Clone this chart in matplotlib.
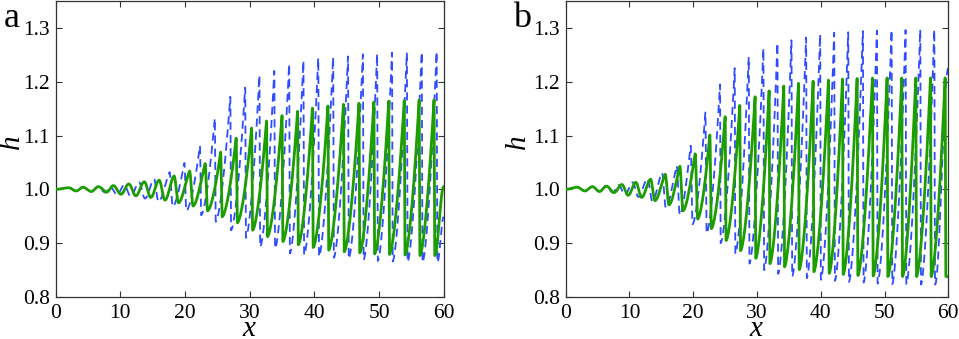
import numpy as np
import matplotlib
matplotlib.use("Agg")
import matplotlib.pyplot as plt

plt.rcParams['font.family'] = 'serif'
plt.rcParams['font.serif'] = ['Liberation Serif', 'DejaVu Serif']

# ---------------- data ----------------
# Panel a, solid green: crest positions / heights, trough positions / heights
a_green_crest_x = [2.0, 4.2, 6.6, 8.9, 11.3, 13.7, 16.0, 18.3, 20.7, 23.1, 25.5, 27.9, 30.3,
                   32.6, 35.0, 37.4, 39.7, 42.1, 44.5, 46.9, 49.2, 51.5, 53.9, 56.2, 58.5]
a_green_crest_h = [1.003, 1.004, 1.005, 1.007, 1.010, 1.014, 1.017, 1.025, 1.034, 1.048, 1.069,
                   1.095, 1.114, 1.127, 1.137, 1.145, 1.151, 1.155, 1.158, 1.160, 1.162, 1.164,
                   1.165, 1.166, 1.166]
a_green_trough_x = [3.2, 5.5, 7.9, 10.1, 12.4, 14.7, 16.9, 19.0, 21.25, 23.5, 25.75, 28.1, 30.45,
                    32.75, 35.13, 37.52, 39.82, 42.22, 44.62, 47.02, 49.32, 51.62, 54.02, 56.32, 58.62]
a_green_trough_h = [0.997, 0.996, 0.995, 0.991, 0.988, 0.985, 0.980, 0.975, 0.969, 0.960, 0.949,
                    0.938, 0.924, 0.912, 0.903, 0.897, 0.892, 0.887, 0.884, 0.882, 0.880, 0.879,
                    0.878, 0.877, 0.877]
a_green_end = 1.005

# Panel a, dashed blue
a_blue_crest_x = [2.0, 4.2, 6.5, 8.4, 10.6, 12.9, 15.2, 17.6, 19.9, 22.3, 24.6, 27.0, 29.3, 31.5,
                  33.8, 36.1, 38.3, 40.6, 42.9, 45.2, 47.5, 49.7, 52.0, 54.3, 56.6, 58.9]
a_blue_crest_h = [1.003, 1.004, 1.005, 1.005, 1.008, 1.013, 1.019, 1.032, 1.049, 1.081, 1.132,
                  1.172, 1.189, 1.212, 1.220, 1.233, 1.239, 1.244, 1.246, 1.247, 1.251, 1.252,
                  1.254, 1.254, 1.255, 1.256]
a_blue_trough_x = [3.2, 5.5, 7.7, 9.5, 11.6, 13.8, 15.9, 18.1, 20.2, 22.5, 24.75, 27.12, 29.42,
                   31.62, 33.92, 36.22, 38.42, 40.72, 43.02, 45.32, 47.62, 49.82, 52.12, 54.42,
                   56.72, 59.02]
a_blue_trough_h = [0.997, 0.996, 0.994, 0.990, 0.987, 0.983, 0.977, 0.968, 0.960, 0.952, 0.940,
                   0.924, 0.910, 0.893, 0.890, 0.881, 0.878, 0.875, 0.873, 0.871, 0.869, 0.867,
                   0.866, 0.865, 0.864, 0.864]
a_blue_end = 0.949

# Panel b, solid green
b_green_crest_x = [1.8, 4.2, 6.4, 8.8, 11.0, 13.3, 15.6, 17.9, 20.3, 22.6, 25.0, 27.3, 29.7,
                   31.9, 34.2, 36.5, 38.8, 41.2, 43.4, 45.7, 48.1, 50.4, 52.7, 54.9, 57.2, 59.5]
b_green_crest_h = [1.004, 1.005, 1.006, 1.009, 1.013, 1.019, 1.028, 1.043, 1.066, 1.101, 1.135,
                   1.156, 1.172, 1.183, 1.192, 1.197, 1.201, 1.203, 1.205, 1.206, 1.207, 1.207,
                   1.207, 1.207, 1.207, 1.207]
b_green_trough_x = [3.0, 5.3, 7.6, 9.8, 11.9, 14.0, 16.2, 18.4, 20.7, 22.85, 25.15, 27.42, 29.8,
                    32.02, 34.32, 36.62, 38.92, 41.32, 43.52, 45.82, 48.22, 50.52, 52.82, 55.02,
                    57.32, 59.62]
b_green_trough_h = [0.997, 0.996, 0.994, 0.989, 0.985, 0.979, 0.971, 0.960, 0.945, 0.927, 0.905,
                    0.886, 0.872, 0.862, 0.856, 0.851, 0.847, 0.844, 0.842, 0.840, 0.839, 0.838,
                    0.838, 0.838, 0.838, 0.838]
b_green_end = 0.838

# Panel b, dashed blue
b_blue_crest_x = [1.8, 4.2, 6.3, 8.3, 10.5, 12.8, 15.1, 17.4, 19.6, 21.9, 24.2, 26.5, 28.7,
                  31.0, 33.2, 35.4, 37.7, 39.9, 42.1, 44.3, 46.6, 48.8, 51.1, 53.3, 55.6, 57.8]
b_blue_crest_h = [1.004, 1.005, 1.006, 1.008, 1.013, 1.020, 1.031, 1.044, 1.081, 1.143, 1.195,
                  1.225, 1.246, 1.262, 1.272, 1.277, 1.282, 1.288, 1.291, 1.292, 1.294, 1.295,
                  1.296, 1.296, 1.297, 1.297]
b_blue_trough_x = [3.0, 5.3, 7.4, 9.3, 11.4, 13.6, 15.7, 17.9, 19.9, 22.1, 24.3, 26.6, 28.82,
                   31.12, 33.32, 35.52, 37.82, 40.02, 42.22, 44.42, 46.72, 48.92, 51.22, 53.42,
                   55.72, 57.92]
b_blue_trough_h = [0.997, 0.996, 0.994, 0.990, 0.986, 0.978, 0.966, 0.952, 0.935, 0.918, 0.900,
                   0.880, 0.862, 0.850, 0.843, 0.838, 0.835, 0.832, 0.830, 0.828, 0.827, 0.825,
                   0.824, 0.824, 0.823, 0.823]
b_blue_end = 1.225

x_ticks = [0, 10, 20, 30, 40, 50, 60]
y_ticks = [0.8, 0.9, 1.0, 1.1, 1.2, 1.3]
panel_labels = ["a", "b"]

GREEN = "#1d9e00"
BLUE = "#2f4dff"


def wave(cx, ch, tx, th, end_h, x_end=60.0, start_h=1.0):
    """Connect read extrema (start, crest, trough, crest, ..., end) with a smooth sawtooth."""
    px = [0.0]
    ph = [start_h]
    for a, b, c, d in zip(cx, ch, tx, th):
        px += [a, c]
        ph += [b, d]
    px.append(x_end)
    ph.append(end_h)
    xs, hs = [], []
    for i in range(len(px) - 1):
        x0, x1 = px[i], px[i + 1]
        h0, h1 = ph[i], ph[i + 1]
        s = np.linspace(0, 1, 40)
        cosine = (1 - np.cos(np.pi * s)) / 2
        if h1 > h0 and 0 < i < len(px) - 2:
            drop = px[i] - px[i - 1]
            w = np.clip((1.0 - drop) / 0.6, 0, 1)
            shape = (1 - w) * cosine + w * s ** 1.6
        else:
            shape = cosine
        xs.append(x0 + (x1 - x0) * s)
        hs.append(h0 + (h1 - h0) * shape)
    return np.concatenate(xs), np.concatenate(hs)


fig = plt.figure(figsize=(9.59, 3.39), dpi=100)

W, H = 959.0, 339.0
axes_px = [(55.7, 443.7), (565.7, 948.3)]
top_px, bot_px = 1.0, 297.0
ylabel_cx = [12.0, 517.5]
label_x = [4, 513]

panels = [
    (a_green_crest_x, a_green_crest_h, a_green_trough_x, a_green_trough_h, a_green_end,
     a_blue_crest_x, a_blue_crest_h, a_blue_trough_x, a_blue_trough_h, a_blue_end),
    (b_green_crest_x, b_green_crest_h, b_green_trough_x, b_green_trough_h, b_green_end,
     b_blue_crest_x, b_blue_crest_h, b_blue_trough_x, b_blue_trough_h, b_blue_end),
]

for k, (l, r) in enumerate(axes_px):
    ax = fig.add_axes([l / W, 1 - bot_px / H, (r - l) / W, (bot_px - top_px) / H])
    p = panels[k]
    bx, bh = wave(p[5], p[6], p[7], p[8], p[9])
    gx, gh = wave(p[0], p[1], p[2], p[3], p[4])
    ax.plot(bx, bh, color=BLUE, lw=1.3, dashes=(4.5, 2.8), zorder=2)
    ax.plot(gx, gh, color=GREEN, lw=2.0, zorder=3, solid_joinstyle='round')
    ax.set_xlim(0, 60)
    ax.set_ylim(0.8, 1.35)
    ax.set_xticks(x_ticks)
    ax.set_yticks(y_ticks)
    ax.set_yticklabels(["%.1f" % v for v in y_ticks])
    ax.tick_params(direction='in', top=True, right=True, length=4, width=0.8,
                   labelsize=15.5, colors='#333333', labelcolor='black')
    ax.tick_params(axis='x', pad=5)
    ax.tick_params(axis='y', pad=4)
    for sp in ax.spines.values():
        sp.set_linewidth(0.9)
        sp.set_color('#333333')
    axw = r - l
    axh = bot_px - top_px
    ax.set_xlabel("x", fontsize=21, style='italic')
    ax.xaxis.label.set_va('baseline')
    ax.xaxis.set_label_coords(0.497, -(336 - bot_px) / axh)
    ax.set_ylabel("h", fontsize=21, style='italic')
    ax.yaxis.label.set_va('center')
    ax.yaxis.set_label_coords((ylabel_cx[k] - l) / axw, (bot_px - 142) / axh)
    fig.text(label_x[k] / W, 1 - 27 / H, panel_labels[k], fontsize=26,
             ha='left', va='baseline')

fig.savefig("out.png", dpi=100)
